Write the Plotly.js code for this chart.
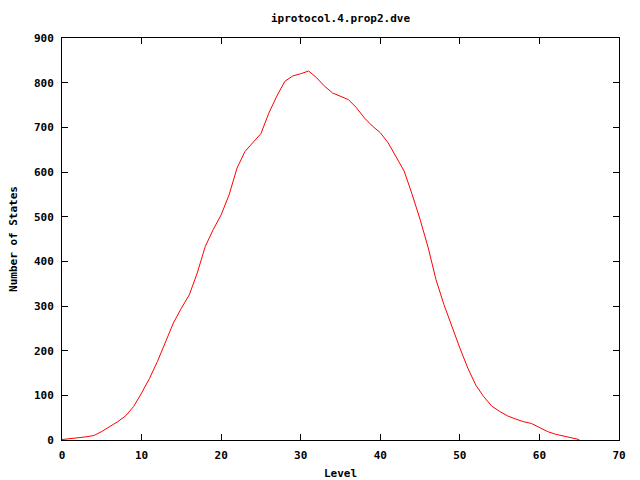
<!DOCTYPE html>
<html>
<head>
<meta charset="utf-8">
<script src="https://cdn.plot.ly/plotly-3.0.1.min.js"></script>
<style>html,body{margin:0;padding:0;background:#fff;}#chart{width:640px;height:480px;}</style>
</head>
<body>
<div id="chart"></div>
<script>
const levels = [0,1,2,3,4,5,6,7,8,9,10,11,12,13,14,15,16,17,18,19,20,21,22,23,24,25,26,27,28,29,30,31,32,33,34,35,36,37,38,39,40,41,42,43,44,45,46,47,48,49,50,51,52,53,54,55,56,57,58,59,60,61,62,63,64,65];
const states = [1,3,4,7,10,19,30,41,54,75,105,138,176,217,262,295,325,374,433,471,504,549,609,646,665,686,732,770,803,815,820,826,811,792,777,770,762,744,721,703,688,665,635,602,550,494,432,359,303,254,206,161,123,97,76,64,54,47,41,37,28,19,13,9,5,1];
const chartTitle = "iprotocol.4.prop2.dve";
const xTitle = "Level";
const yTitle = "Number of States";

const font = {family: "DejaVu Sans Mono, Liberation Mono, monospace", size: 11, color: "#000"};

Plotly.newPlot("chart", [{
  x: levels, y: states, type: "scatter", mode: "lines",
  line: {color: "#ff0000", width: 1}, hoverinfo: "skip"
}], {
  width: 640, height: 480,
  margin: {l: 62, r: 21, t: 38, b: 40},
  paper_bgcolor: "#fff", plot_bgcolor: "#fff",
  showlegend: false,
  font: font,
  title: {text: "<b>" + chartTitle + "</b>", x: 0.532, xanchor: "center", y: 0.962, yanchor: "middle", font: font},
  xaxis: {
    range: [0, 70], dtick: 10, tick0: 0, ticks: "inside", ticklen: 6, tickwidth: 1, tickcolor: "#000",
    showline: true, linecolor: "#000", linewidth: 1, mirror: "ticks", showgrid: false, zeroline: false,
    ticklabelstandoff: 5,
    tickfont: {family: font.family, size: 11, weight: "bold", color: "#000"},
    title: {text: "<b>" + xTitle + "</b>", font: font, standoff: 10}
  },
  yaxis: {
    range: [0, 900], dtick: 100, tick0: 0, ticks: "inside", ticklen: 6, tickwidth: 1, tickcolor: "#000",
    showline: true, linecolor: "#000", linewidth: 1, mirror: "ticks", showgrid: false, zeroline: false,
    ticklabelstandoff: 5,
    tickfont: {family: font.family, size: 11, weight: "bold", color: "#000"},
    title: {text: "<b>" + yTitle + "</b>", font: font, standoff: 14}
  }
}, {staticPlot: true, displayModeBar: false});
</script>
</body>
</html>
